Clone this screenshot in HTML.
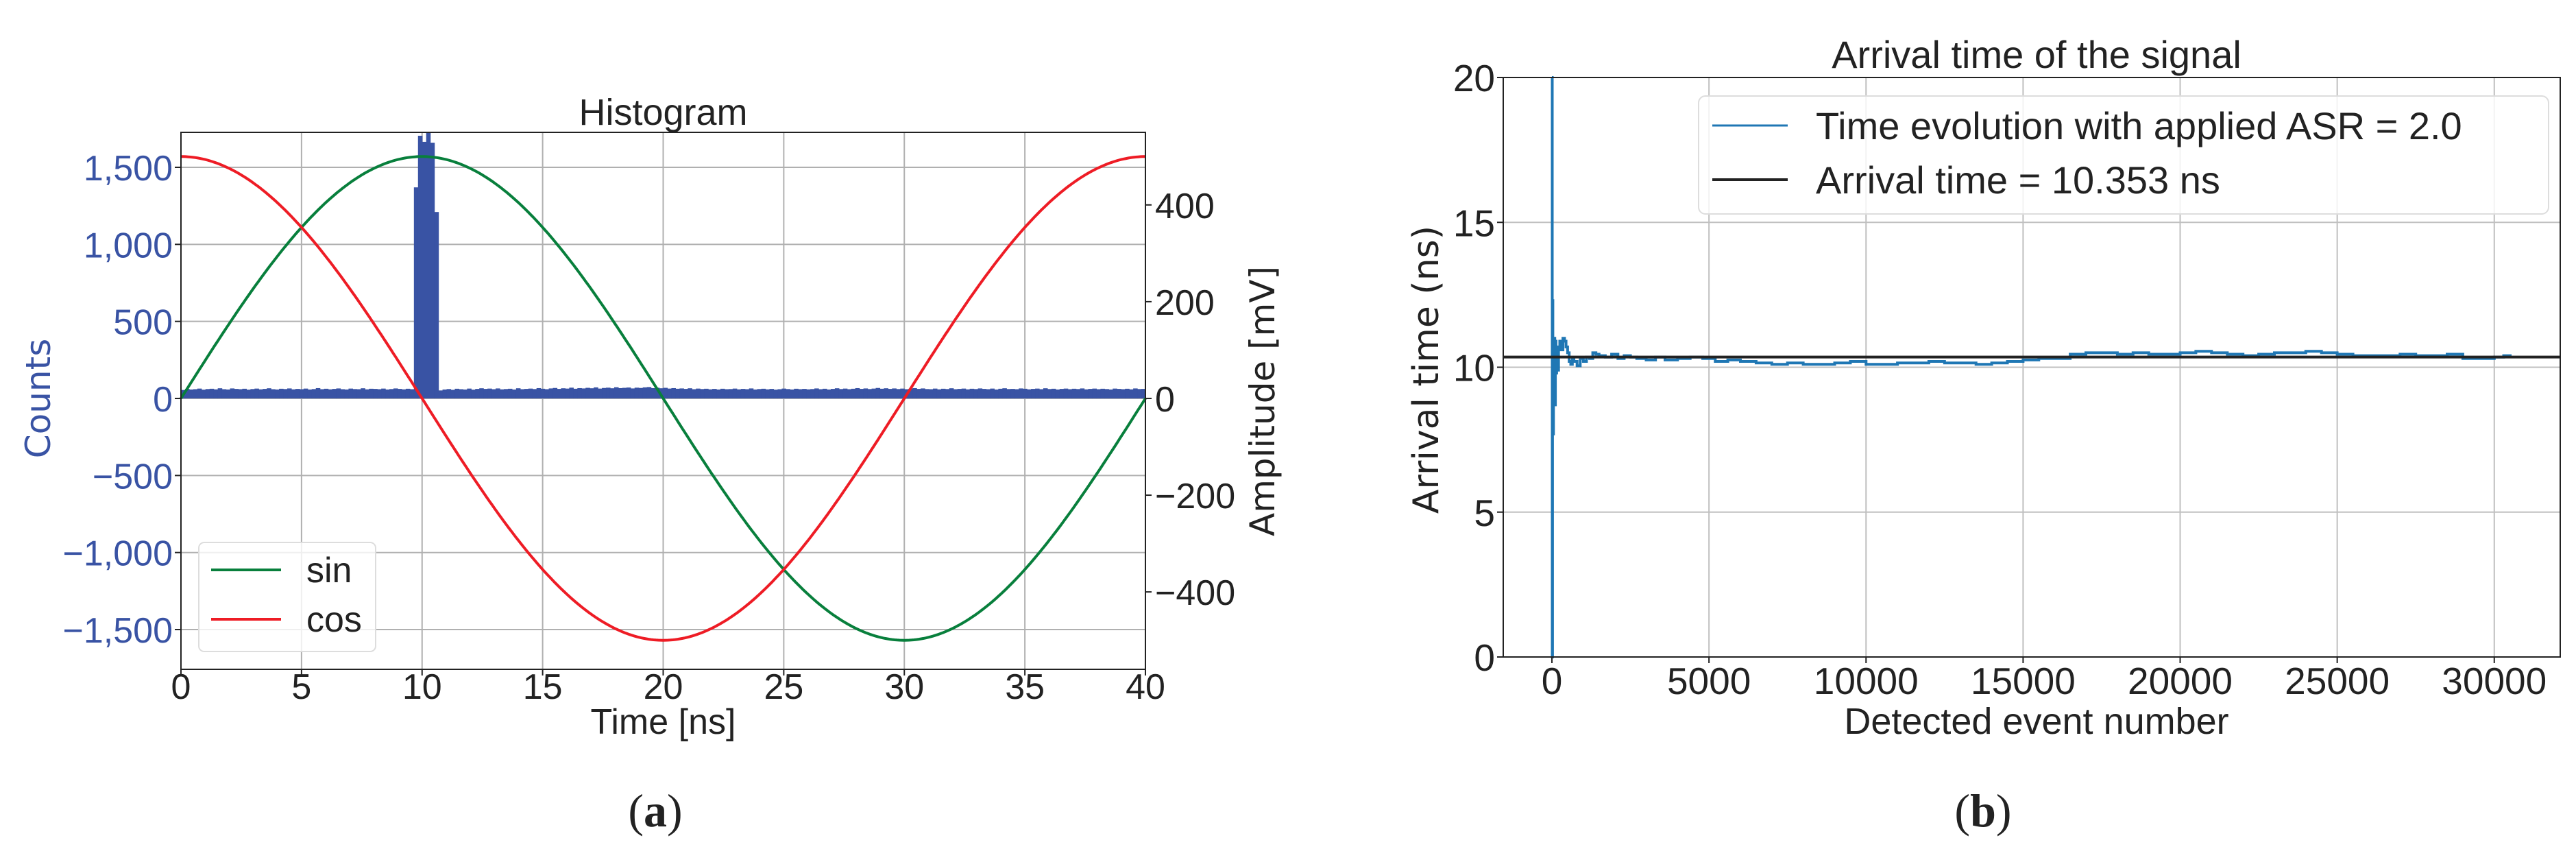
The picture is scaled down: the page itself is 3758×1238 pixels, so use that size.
<!DOCTYPE html>
<html><head><meta charset="utf-8"><style>
html,body{margin:0;padding:0;background:#fff;}
svg{display:block;}
</style></head><body>
<svg id="fig" width="3758" height="1238" viewBox="0 0 3758 1238" xmlns="http://www.w3.org/2000/svg">
<g id="chartA"></g>
<g id="chartB"></g>
</svg>
<script>
// ---------- Chart A data ----------
const histBinStart = 0;
const histCounts = [
55,62,58,60,64,57,61,63,59,66,60,58,65,62,60,63,57,61,64,59,
62,66,60,58,63,61,65,59,62,60,64,58,61,67,60,63,59,62,65,60,
58,64,61,60,66,59,63,62,60,64,58,61,65,62,59,63,60,
1370,1705,1665,1740,1660,1210,52,58,61,56,63,60,58,64,57,62,66,62,64,
60,65,59,61,63,58,66,60,62,64,61,67,63,60,65,68,62,66,64,70,
63,67,65,69,66,72,64,68,70,66,73,67,69,71,65,70,68,72,74,67,
70,66,69,64,67,63,65,62,66,60,64,61,63,59,62,58,63,60,61,64,
59,62,60,65,58,61,63,59,62,57,60,64,61,58,63,60,62,59,61,65,
60,63,58,62,66,61,64,60,63,67,62,65,61,64,68,63,66,62,65,61,
64,60,63,67,62,65,61,60,64,59,63,61,66,60,62,64,59,63,61,65,
62,60,64,58,63,66,61,62,60,65,63,59,62,64,60,66,61,63,58,62,
64,60,63,61,65,59,62,64,60,63,61,58,64,62,60,63,59,65,61,62
];
const histRange = [0, 40];
const axAX = [0, 40];
const axAY = [-1758, 1727];
const axAY2 = [-560, 550];
const amplitude = [500];
const period = [40];
const xTicksA = [0,5,10,15,20,25,30,35,40];
const yTicksA = [-1500,-1000,-500,0,500,1000,1500];
const yTickLabelsA = ["\u22121,500","\u22121,000","\u2212500","0","500","1,000","1,500"];
const y2TicksA = [-400,-200,0,200,400];
const y2TickLabelsA = ["\u2212400","\u2212200","0","200","400"];

// ---------- Chart B data ----------
const evEvents = [0,10,20,30,50,70,90,110,130,150,180,210,250,300,350,400,450,500,550,600,650,700,800,900,1000,1100,1200,1300,1400,1500,1700,1900,2100,2300,2500,2700,3000,3300,3600,4000,4400,4800,5200,5600,6000,6500,7000,7500,8000,8500,9000,9500,10000,10500,11000,11500,12000,12500,13000,13500,14000,14500,15000,15500,16000,16500,17000,17500,18000,18500,19000,19500,20000,20500,21000,21500,22000,22500,23000,23500,24000,24500,25000,25500,26000,26500,27000,27500,28000,28500,29000,29500,30000,30300];
const evValues = [20,0,12.3,7.7,9.6,11.0,8.7,10.9,9.8,10.7,9.9,10.6,10.9,10.6,11.0,10.9,10.7,10.5,10.2,10.1,10.3,10.2,10.05,10.3,10.2,10.35,10.3,10.5,10.45,10.4,10.35,10.45,10.3,10.4,10.35,10.3,10.25,10.35,10.25,10.3,10.35,10.3,10.2,10.25,10.2,10.15,10.1,10.15,10.1,10.1,10.15,10.2,10.1,10.1,10.15,10.15,10.2,10.15,10.15,10.1,10.15,10.2,10.25,10.3,10.3,10.45,10.5,10.5,10.45,10.5,10.45,10.45,10.5,10.55,10.5,10.45,10.4,10.45,10.5,10.5,10.55,10.5,10.45,10.4,10.4,10.4,10.45,10.4,10.4,10.45,10.3,10.3,10.35,10.4];
const arrivalTime = [10.353];
const axBX = [-1550, 32100];
const axBY = [0, 20];
const xTicksB = [0,5000,10000,15000,20000,25000,30000];
const yTicksB = [0,5,10,15,20];

const NS = "http://www.w3.org/2000/svg";
function mk(parent, tag, attrs, text){
  const e = document.createElementNS(NS, tag);
  for (const k in attrs) e.setAttribute(k, attrs[k]);
  if (text !== undefined) e.textContent = text;
  parent.appendChild(e);
  return e;
}
const TICKFONT = '"Liberation Sans", "DejaVu Sans", sans-serif';
const LABFONT = '"DejaVu Sans", "Liberation Sans", sans-serif';

// ===== Chart A =====
(function(){
  const g = document.getElementById('chartA');
  const L=264, R=1671, T=193, B=976;
  const histBinWidth = (histRange[1]-histRange[0])/histCounts.length;
  const sx = v => L + (v-axAX[0])/(axAX[1]-axAX[0])*(R-L);
  const sy = v => B - (v-axAY[0])/(axAY[1]-axAY[0])*(B-T);
  const sy2 = v => B - (v-axAY2[0])/(axAY2[1]-axAY2[0])*(B-T);
  xTicksA.forEach(t=>{
    const l = mk(g,'line',{x1:sx(t),x2:sx(t),y1:T,y2:B,stroke:'#b0b0b0','stroke-width':2});
    
    
  });
  yTicksA.forEach(t=>{
    const l = mk(g,'line',{x1:L,x2:R,y1:sy(t),y2:sy(t),stroke:'#b0b0b0','stroke-width':2});
    
    
  });
  const hg = mk(g,'g',{});
  
  
  histCounts.forEach((c,i)=>{
    const x0 = sx(histBinStart + i*histBinWidth), x1 = sx(histBinStart + (i+1)*histBinWidth);
    const top = Math.max(sy(c), T);
    const r = mk(hg,'rect',{x:x0,y:top,width:Math.min(x1-x0+0.6, R-x0),height:sy(0)-top,fill:'#3953a4'});
    
    
  });
  let ps='', pc='';
  for (let i=0;i<=400;i++){
    const t = axAX[0] + i*(axAX[1]-axAX[0])/400;
    const s = amplitude[0]*Math.sin(2*Math.PI*t/period[0]);
    const c = amplitude[0]*Math.cos(2*Math.PI*t/period[0]);
    ps += (i?'L':'M')+sx(t).toFixed(1)+','+sy2(s).toFixed(1);
    pc += (i?'L':'M')+sx(t).toFixed(1)+','+sy2(c).toFixed(1);
  }
  const sinL = mk(g,'path',{d:ps,fill:'none',stroke:'#087f3c','stroke-width':4});
  
  
  const cosL = mk(g,'path',{d:pc,fill:'none',stroke:'#ee1c25','stroke-width':4});
  
  
  const fr = mk(g,'rect',{x:L,y:T,width:R-L,height:B-T,fill:'none',stroke:'#222','stroke-width':2});
  
  
  xTicksA.forEach(t=>{
    const tk = mk(g,'line',{x1:sx(t),x2:sx(t),y1:B,y2:B+9,stroke:'#222','stroke-width':2});
    
    
    const tx = mk(g,'text',{x:sx(t),y:1019,'text-anchor':'middle','font-family':TICKFONT,'font-size':52,fill:'#222'},String(t));
    
    
  });
  yTicksA.forEach((t,i)=>{
    const tk = mk(g,'line',{x1:L-9,x2:L,y1:sy(t),y2:sy(t),stroke:'#222','stroke-width':2});
    
    
    const tx = mk(g,'text',{x:L-12,y:sy(t)+19,'text-anchor':'end','font-family':TICKFONT,'font-size':52,fill:'#3953a4'},yTickLabelsA[i]);
    
    
  });
  y2TicksA.forEach((t,i)=>{
    const tk = mk(g,'line',{x1:R,x2:R+9,y1:sy2(t),y2:sy2(t),stroke:'#222','stroke-width':2});
    
    
    const tx = mk(g,'text',{x:R+14,y:sy2(t)+19,'text-anchor':'start','font-family':TICKFONT,'font-size':52,fill:'#222'},y2TickLabelsA[i]);
    
    
  });
  const title = mk(g,'text',{x:(L+R)/2,y:182,'text-anchor':'middle','font-family':TICKFONT,'font-size':54,fill:'#222'},'Histogram');
  
  
  const xl = mk(g,'text',{x:(L+R)/2,y:1070,'text-anchor':'middle','font-family':TICKFONT,'font-size':52,fill:'#222'},'Time [ns]');
  
  
  const yl = mk(g,'text',{x:0,y:0,'text-anchor':'middle','font-family':LABFONT,'font-size':50,fill:'#3953a4',transform:'translate(73,581) rotate(-90)'},'Counts');
  
  
  const y2l = mk(g,'text',{x:0,y:0,'text-anchor':'middle','font-family':LABFONT,'font-size':50,fill:'#222',transform:'translate(1859,585) rotate(-90)'},'Amplitude [mV]');
  
  
  const lg = mk(g,'g',{});
  
  
  mk(lg,'rect',{x:290,y:791,width:258,height:159,rx:8,fill:'#fff','fill-opacity':0.8,stroke:'#ddd','stroke-width':2});
  const e1 = mk(lg,'line',{x1:308,x2:410,y1:831,y2:831,stroke:'#087f3c','stroke-width':4});
  
  
  const t1 = mk(lg,'text',{x:447,y:849,'font-family':TICKFONT,'font-size':52,fill:'#222'},'sin');
  
  
  const e2 = mk(lg,'line',{x1:308,x2:410,y1:903,y2:903,stroke:'#ee1c25','stroke-width':4});
  
  
  const t2 = mk(lg,'text',{x:447,y:921,'font-family':TICKFONT,'font-size':52,fill:'#222'},'cos');
  
  
  const cap = mk(g,'text',{x:956,y:1205,'text-anchor':'middle','font-family':'"Liberation Serif", serif','font-size':68,fill:'#222'},'');
  
  
  cap.innerHTML = '(<tspan font-weight="bold">a</tspan>)';
})();

// ===== Chart B =====
(function(){
  const g = document.getElementById('chartB');
  const L=2193, R=3735, T=113, B=958;
  const sx = v => L + (v-axBX[0])/(axBX[1]-axBX[0])*(R-L);
  const sy = v => B - (v-axBY[0])/(axBY[1]-axBY[0])*(B-T);
  xTicksB.forEach(t=>{
    const l = mk(g,'line',{x1:sx(t),x2:sx(t),y1:T,y2:B,stroke:'#c0c0c0','stroke-width':2});
    
    
  });
  yTicksB.forEach(t=>{
    const l = mk(g,'line',{x1:L,x2:R,y1:sy(t),y2:sy(t),stroke:'#c0c0c0','stroke-width':2});
    
    
  });
  let d='';
  evEvents.forEach((e,i)=>{
    const x = sx(e), y = sy(evValues[i]);
    if (i===0) d += 'M'+x.toFixed(1)+','+y.toFixed(1);
    else d += 'H'+x.toFixed(1)+'V'+y.toFixed(1);
  });
  d += 'H'+sx(evEvents[evEvents.length-1]+250).toFixed(1);
  const ev = mk(g,'path',{d:d,fill:'none',stroke:'#1f77b4','stroke-width':4,'stroke-linejoin':'miter'});
  
  
  const al = mk(g,'line',{x1:L,x2:R,y1:sy(arrivalTime[0]),y2:sy(arrivalTime[0]),stroke:'#222','stroke-width':4});
  
  
  const fr = mk(g,'rect',{x:L,y:T,width:R-L,height:B-T,fill:'none',stroke:'#222','stroke-width':2});
  
  
  xTicksB.forEach(t=>{
    const tk = mk(g,'line',{x1:sx(t),x2:sx(t),y1:B,y2:B+9,stroke:'#222','stroke-width':2});
    
    
    const tx = mk(g,'text',{x:sx(t),y:1012,'text-anchor':'middle','font-family':TICKFONT,'font-size':55,fill:'#222'},String(t));
    
    
  });
  yTicksB.forEach(t=>{
    const tk = mk(g,'line',{x1:L-9,x2:L,y1:sy(t),y2:sy(t),stroke:'#222','stroke-width':2});
    
    
    const tx = mk(g,'text',{x:L-12,y:sy(t)+20,'text-anchor':'end','font-family':TICKFONT,'font-size':55,fill:'#222'},String(t));
    
    
  });
  const title = mk(g,'text',{x:2971,y:99,'text-anchor':'middle','font-family':TICKFONT,'font-size':56,fill:'#222'},'Arrival time of the signal');
  
  
  const xl = mk(g,'text',{x:2971,y:1070,'text-anchor':'middle','font-family':TICKFONT,'font-size':54,fill:'#222'},'Detected event number');
  
  
  const yl = mk(g,'text',{x:0,y:0,'text-anchor':'middle','font-family':LABFONT,'font-size':52,fill:'#222',transform:'translate(2098,539) rotate(-90)'},'Arrival time (ns)');
  
  
  const lg = mk(g,'g',{});
  
  
  mk(lg,'rect',{x:2478,y:140,width:1240,height:172,rx:10,fill:'#fff','fill-opacity':0.8,stroke:'#ddd','stroke-width':2});
  const e1 = mk(lg,'line',{x1:2498,x2:2608,y1:183,y2:183,stroke:'#1f77b4','stroke-width':3});
  
  
  const t1 = mk(lg,'text',{x:2649,y:203,'font-family':TICKFONT,'font-size':56,fill:'#222'},'Time evolution with applied ASR = 2.0');
  
  
  const e2 = mk(lg,'line',{x1:2498,x2:2608,y1:262,y2:262,stroke:'#222','stroke-width':4});
  
  
  const t2 = mk(lg,'text',{x:2649,y:282,'font-family':TICKFONT,'font-size':56,fill:'#222'},'Arrival time = 10.353 ns');
  
  
  const cap = mk(g,'text',{x:2893,y:1205,'text-anchor':'middle','font-family':'"Liberation Serif", serif','font-size':68,fill:'#222'},'');
  
  
  cap.innerHTML = '(<tspan font-weight="bold">b</tspan>)';
})();
</script>
</body></html>
